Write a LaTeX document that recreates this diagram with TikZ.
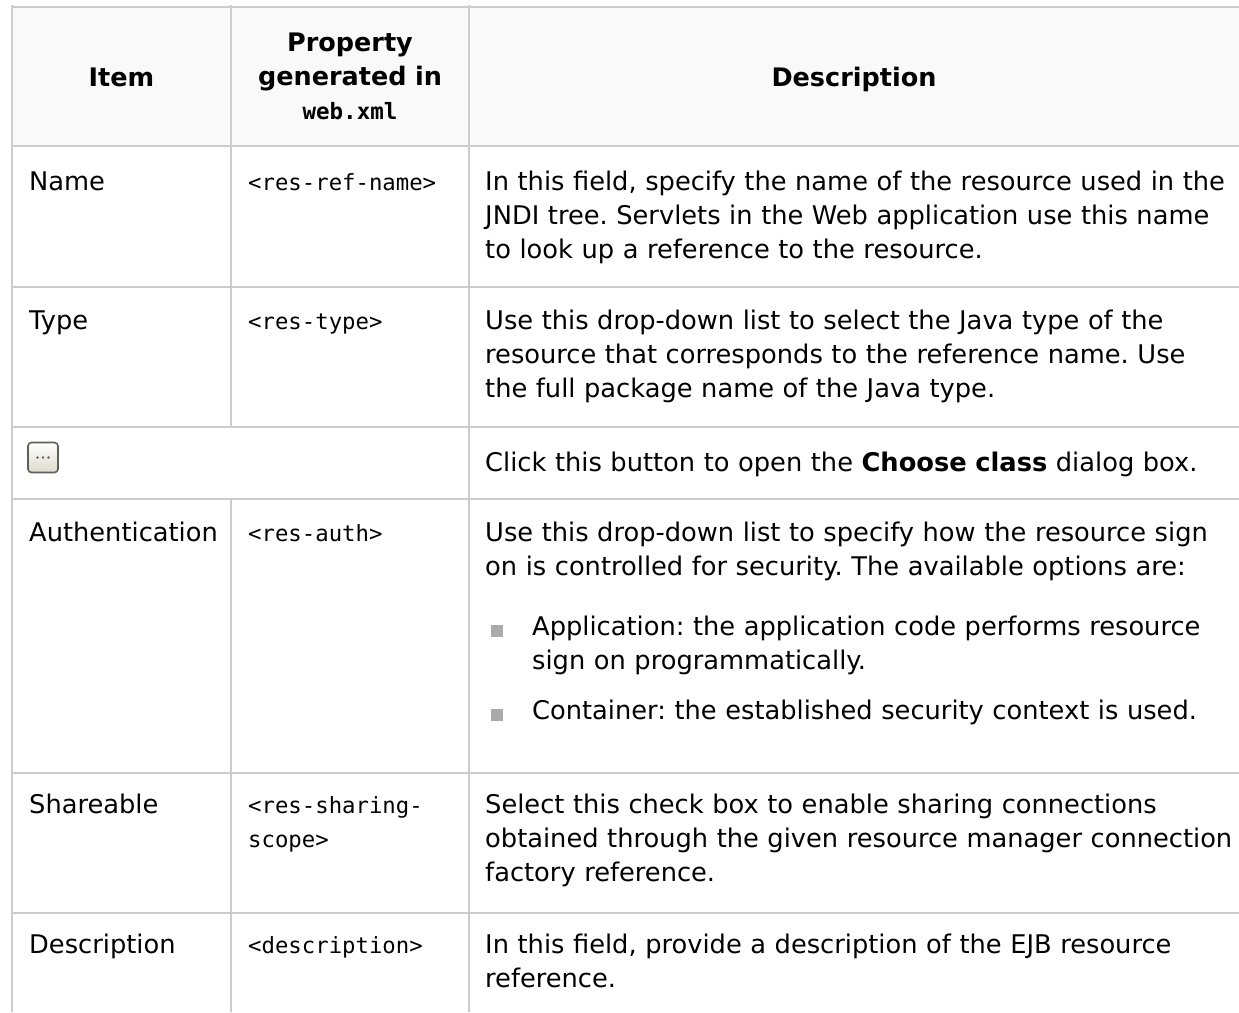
\documentclass[tikz,border=0pt]{standalone}
\usepackage{fontspec}
\setmainfont{DejaVu Sans}
\newfontfamily\monof{DejaVu Sans Mono}
\definecolor{gridc}{RGB}{204,204,204}
\definecolor{headbg}{RGB}{249,249,249}
\definecolor{bulletc}{RGB}{170,170,170}
\definecolor{btnborder}{RGB}{95,95,85}
\definecolor{btnbottom}{RGB}{222,219,203}
\frenchspacing
\begin{document}
\begin{tikzpicture}[x=1pt,y=-1pt,
  gridline/.style={draw=gridc,line width=1.3pt},
  body/.style={inner sep=0pt,anchor=base west,text width=760pt,align=left,
    font=\frenchspacing\fontsize{25.7}{34}\selectfont},
  itemtxt/.style={inner sep=0pt,anchor=base west,font=\fontsize{25.7}{34}\selectfont},
  codetxt/.style={inner sep=0pt,anchor=base west,text width=220pt,align=left,
    font=\monof\fontsize{22.3}{34}\selectfont},
  headtxt/.style={inner sep=0pt,anchor=base,text width=236pt,align=center,
    font=\bfseries\fontsize{25.5}{34}\selectfont},
  bulletbox/.style={fill=bulletc,minimum size=12pt,inner sep=0pt,draw=none},
  btnbox/.style={draw=btnborder,line width=1.6pt,rounded corners=3.5pt,
    top color=white,bottom color=btnbottom,minimum width=30pt,minimum height=30pt,inner sep=0pt},
  btndot/.style={circle,fill=black!60,inner sep=0pt,minimum size=2.6pt}
]
\useasboundingbox (0,0) rectangle (1239,1012);
% header background
\fill[headbg] (12,7) rectangle (1239,146);
% grid
\draw[gridline] (12,7) -- (1239,7);
\draw[gridline] (12,146) -- (1239,146);
\draw[gridline] (12,287) -- (1239,287);
\draw[gridline] (12,427) -- (1239,427);
\draw[gridline] (12,499) -- (1239,499);
\draw[gridline] (12,773) -- (1239,773);
\draw[gridline] (12,913) -- (1239,913);
\draw[gridline] (12,5) -- (12,1012);
\draw[gridline] (231,5) -- (231,427);
\draw[gridline] (231,499) -- (231,1012);
\draw[gridline] (469,5) -- (469,1012);
% header
\node[headtxt] (hitem) at (121.5,86) {Item};
\node[headtxt] (hprop) at (350,51) {Property\\generated in\\{\monof\fontsize{22.5}{34}\selectfont web.xml}};
\node[headtxt,text width=700pt] (hdesc) at (854,86) {Description};
% Name row
\node[itemtxt] (iname) at (29,190) {Name};
\node[codetxt] (cname) at (248,190) {<res-ref-name>};
\node[body] (dname) at (485,190) {In this field, specify the name of the resource used in the\\JNDI tree. Servlets in the Web application use this name\\to look up a reference to the resource.};
% Type row
\node[itemtxt] (itype) at (29,329) {Type};
\node[codetxt] (ctype) at (248,329) {<res-type>};
\node[body] (dtype) at (485,329) {Use this drop-down list to select the Java type of the\\resource that corresponds to the reference name. Use\\the full package name of the Java type.};
% button row
\node[btnbox] (btn) at (43,457.5) {};
\node[btndot] (dot1) at (37.5,457.5) {};
\node[btndot] (dot2) at (43,457.5) {};
\node[btndot] (dot3) at (48.5,457.5) {};
\node[body] (dbtn) at (485,471) {Click this button to open the \textbf{Choose class} dialog box.};
% Authentication row
\node[itemtxt] (iauth) at (29,541) {Authentication};
\node[codetxt] (cauth) at (248,541) {<res-auth>};
\node[body] (dauth) at (485,541) {Use this drop-down list to specify how the resource sign\\on is controlled for security. The available options are:};
\node[bulletbox] (b1) at (497,630.5) {};
\node[body,text width=700pt] (dapp) at (532,635) {Application: the application code performs resource\\sign on programmatically.};
\node[bulletbox] (b2) at (497,714.5) {};
\node[body,text width=700pt] (dcont) at (532,719) {Container: the established security context is used.};
% Shareable row
\node[itemtxt] (ishare) at (29,813) {Shareable};
\node[codetxt] (cshare) at (248,813) {<res-sharing-\\scope>};
\node[body] (dshare) at (485,813) {Select this check box to enable sharing connections\\obtained through the given resource manager connection\\factory reference.};
% Description row
\node[itemtxt] (idesc) at (29,953) {Description};
\node[codetxt] (cdesc) at (248,953) {<description>};
\node[body] (ddesc) at (485,953) {In this field, provide a description of the EJB resource\\reference.};
\end{tikzpicture}
\end{document}
